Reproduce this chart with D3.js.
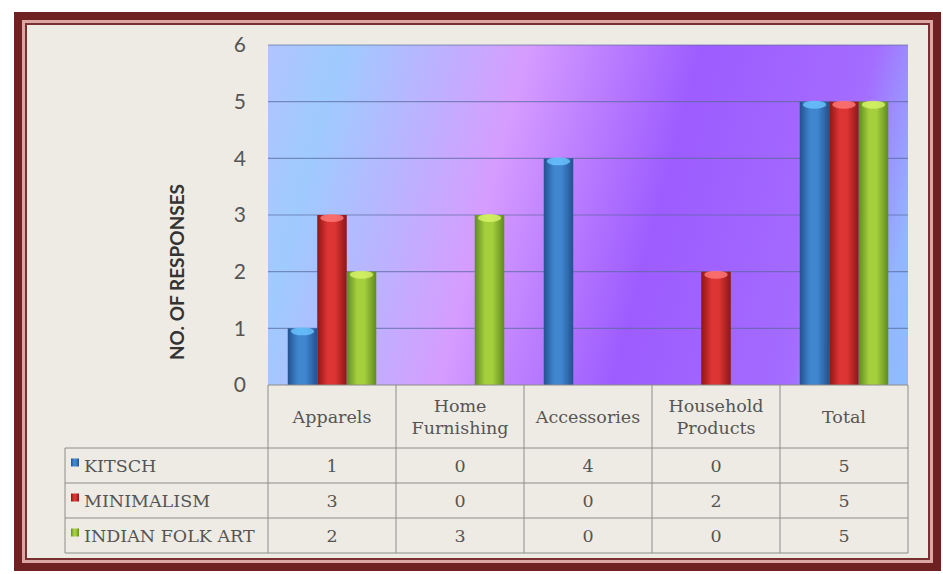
<!DOCTYPE html>
<html lang="en">
<head>
    <meta charset="UTF-8">
    <title>Responses by Category</title>
    <script src="https://d3js.org/d3.v7.min.js"></script>
    <style>
        body { margin: 0; background: #fff; }
        svg { display: block; }
        .tick-label { font-family: Lato, "Open Sans", sans-serif; font-size: 21px; fill: #555; }
        .axis-title { font-family: Lato, "Open Sans", sans-serif; font-size: 19px; font-weight: bold; fill: #333; }
        .tbl { font-family: "DejaVu Serif", serif; font-size: 17.5px; fill: #555; }
    </style>
</head>
<body>
<div id="chart"></div>
<script>
    // chart data
    const categories = ["Apparels", "Home Furnishing", "Accessories", "Household Products", "Total"];
    const headerLines = [["Apparels"], ["Home", "Furnishing"], ["Accessories"], ["Household", "Products"], ["Total"]];
    const seriesNames = ["KITSCH", "MINIMALISM", "INDIAN FOLK ART"];
    const kitsch = [1, 0, 4, 0, 5];
    const minimalism = [3, 0, 0, 2, 5];
    const folkArt = [2, 3, 0, 0, 5];
    const yTicks = [0, 1, 2, 3, 4, 5, 6];

    const seriesValues = [kitsch, minimalism, folkArt];
    const colors = [
        { dark: "#23518f", mid: "#3f86cf", cap: "#6cc6ff" },
        { dark: "#8e1616", mid: "#dd3434", cap: "#ff7a7a" },
        { dark: "#5f8c1c", mid: "#a6cf3e", cap: "#d8f46a" }
    ];

    const W = 943, H = 574;
    const plot = { left: 268, right: 908, top: 45, bottom: 385 };
    const table = { left: 65, header: 448, rowH: 35 };

    const svg = d3.select("#chart").append("svg")
        .attr("width", W).attr("height", H);
    const defs = svg.append("defs");

    // background frame
    svg.append("rect").attr("x", 0).attr("y", 0).attr("width", W).attr("height", H).attr("fill", "#fff");
    svg.append("rect").attr("x", 14).attr("y", 12).attr("width", 927).attr("height", 559).attr("fill", "#6f2020");
    svg.append("rect").attr("x", 22).attr("y", 20).attr("width", 911).attr("height", 543).attr("fill", "#dca6a2");
    svg.append("rect").attr("x", 25).attr("y", 23).attr("width", 905).attr("height", 537).attr("fill", "#7a3030");
    svg.append("rect").attr("x", 27).attr("y", 25).attr("width", 901).attr("height", 533).attr("fill", "#eeebe4");

    // plot background gradient
    const bg = defs.append("linearGradient").attr("id", "plotbg")
        .attr("gradientUnits", "userSpaceOnUse")
        .attr("x1", plot.left).attr("y1", plot.top).attr("x2", 945).attr("y2", 224);
    [["0", "#b2c4ff"], ["0.1", "#9fcbff"], ["0.36", "#d69cff"], ["0.6", "#9d5cff"],
     ["0.84", "#a46cff"], ["0.95", "#93b6ff"], ["1", "#8fbcff"]].forEach(([o, c]) =>
        bg.append("stop").attr("offset", o).attr("stop-color", c));

    const x = d3.scaleBand().domain(categories).range([plot.left, plot.right]);
    const y = d3.scaleLinear().domain([0, 6]).range([plot.bottom, plot.top]);
    const barW = 29.5;

    svg.append("rect")
        .attr("x", plot.left).attr("y", plot.top)
        .attr("width", plot.right - plot.left).attr("height", plot.bottom - plot.top)
        .attr("fill", "url(#plotbg)");

    // gridlines
    svg.selectAll(".grid").data(yTicks.slice(1)).enter().append("line")
        .attr("x1", plot.left).attr("x2", plot.right)
        .attr("y1", d => y(d)).attr("y2", d => y(d))
        .attr("stroke", "#56679a").attr("stroke-opacity", 0.65).attr("stroke-width", 1.2);

    // y tick labels
    svg.selectAll(".tick-label").data(yTicks).enter().append("text")
        .attr("class", "tick-label")
        .attr("x", 246).attr("y", d => y(d)).attr("dy", "0.35em")
        .attr("text-anchor", "end").text(d => d);

    svg.append("text").attr("class", "axis-title")
        .attr("transform", "translate(184,272) rotate(-90)")
        .attr("text-anchor", "middle").text("NO. OF RESPONSES");

    // bar gradients
    colors.forEach((c, i) => {
        const g = defs.append("linearGradient").attr("id", "bar" + i)
            .attr("x1", "0").attr("x2", "1").attr("y1", "0").attr("y2", "0");
        [["0", c.dark], ["0.35", c.mid], ["0.6", c.mid], ["1", c.dark]].forEach(([o, col]) =>
            g.append("stop").attr("offset", o).attr("stop-color", col));
    });

    // bars
    seriesValues.forEach((vals, s) => {
        const grp = svg.append("g");
        const data = vals.map((v, i) => ({ cat: categories[i], v }))
            .filter(d => d.v > 0);
        const bx = d => x(d.cat) + x.bandwidth() / 2 + (s - 1) * barW - barW / 2;
        grp.selectAll("rect").data(data).enter().append("rect")
            .attr("x", bx).attr("y", d => y(d.v))
            .attr("width", barW).attr("height", d => plot.bottom - y(d.v))
            .attr("fill", `url(#bar${s})`);
        grp.selectAll("ellipse").data(data).enter().append("ellipse")
            .attr("cx", d => bx(d) + barW / 2).attr("cy", d => y(d.v) + 3)
            .attr("rx", barW / 2 - 3).attr("ry", 4)
            .attr("fill", colors[s].cap).attr("opacity", 0.8);
    });

    // data table
    const lineCol = "#8c8c88";
    const tableBottom = table.header + table.rowH * seriesNames.length;
    const vLines = categories.map(c => x(c)).concat([plot.right]);
    svg.selectAll(".vline").data(vLines).enter().append("line")
        .attr("x1", d => d).attr("x2", d => d)
        .attr("y1", plot.bottom).attr("y2", tableBottom)
        .attr("stroke", lineCol);
    svg.append("line").attr("x1", table.left).attr("x2", table.left)
        .attr("y1", table.header).attr("y2", tableBottom).attr("stroke", lineCol);
    svg.append("line").attr("x1", plot.left).attr("x2", plot.right)
        .attr("y1", plot.bottom).attr("y2", plot.bottom).attr("stroke", lineCol);
    d3.range(seriesNames.length + 1).forEach(r => {
        svg.append("line").attr("x1", table.left).attr("x2", plot.right)
            .attr("y1", table.header + r * table.rowH).attr("y2", table.header + r * table.rowH)
            .attr("stroke", lineCol);
    });

    // header labels
    headerLines.forEach((lines, i) => {
        const cx = x(categories[i]) + x.bandwidth() / 2;
        const cy = (plot.bottom + table.header) / 2;
        lines.forEach((ln, j) => {
            svg.append("text").attr("class", "tbl")
                .attr("x", cx).attr("y", cy + (j - (lines.length - 1) / 2) * 22)
                .attr("dy", "0.35em").attr("text-anchor", "middle").text(ln);
        });
    });

    // legend rows + values
    seriesNames.forEach((name, s) => {
        const cy = table.header + s * table.rowH + table.rowH / 2;
        svg.append("rect").attr("x", 71).attr("y", cy - 7).attr("width", 8).attr("height", 8)
            .attr("fill", `url(#bar${s})`);
        svg.append("text").attr("class", "tbl").attr("x", 84).attr("y", cy)
            .attr("dy", "0.35em").text(name);
        seriesValues[s].forEach((v, i) => {
            svg.append("text").attr("class", "tbl")
                .attr("x", x(categories[i]) + x.bandwidth() / 2).attr("y", cy)
                .attr("dy", "0.35em").attr("text-anchor", "middle").text(v);
        });
    });
</script>
</body>
</html>
